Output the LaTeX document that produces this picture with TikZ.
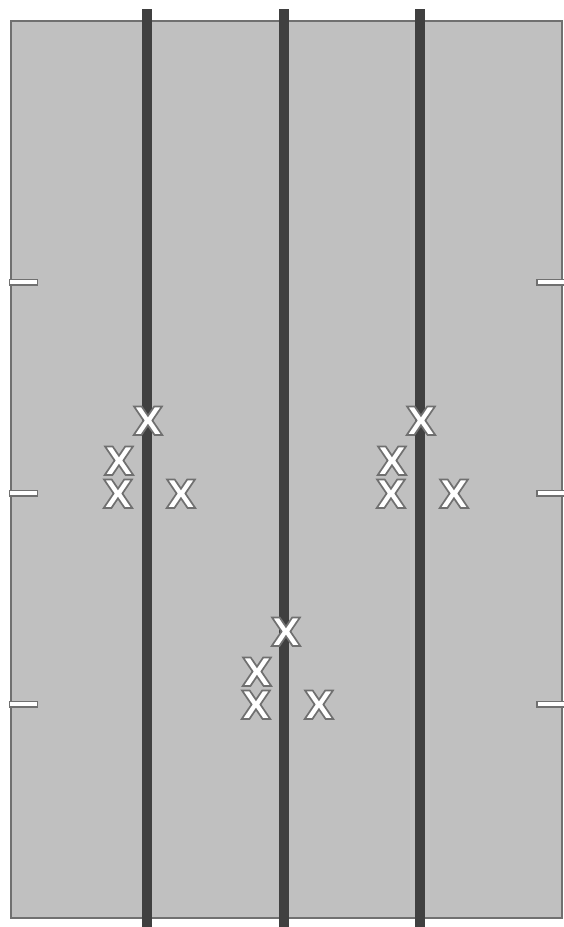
\documentclass[tikz,border=0pt]{standalone}
\usepackage{fontspec}
\setmainfont{DejaVu Sans}
\definecolor{bgfill}{HTML}{C0C0C0}
\definecolor{edge}{HTML}{707070}
\definecolor{bar}{HTML}{404040}
\tikzset{
  px/.style={x=1pt,y=-1pt},
  mark x/.style={inner sep=0pt,text height=28pt,text depth=0pt,font=\bfseries\fontsize{39}{39}\selectfont},
  tickmark/.style={draw=edge,fill=white,line width=1.5pt,minimum width=28pt,minimum height=5.5pt,inner sep=0pt},
}
\newcommand{\xmark}{\textcolor{white}{\special{pdf:literal direct 0.439 0.439 0.439 RG 2 Tr 1.7 w}X\special{pdf:literal direct 0 Tr}}}
\begin{document}
\begin{tikzpicture}[px]
\useasboundingbox (0,0) rectangle (563,927);
\node[draw=edge,fill=bgfill,line width=2pt,minimum width=551pt,minimum height=897pt,inner sep=0pt] (field) at (286.5,469.5) {};
% ticks
\foreach \yy/\nm in {282/a,493/b,704/c}{
  \node[tickmark] (tl\nm) at (23.5,\yy) {};
  \node[tickmark] (tr\nm) at (551,\yy) {};
}
% bars
\foreach \xx/\nm in {147/1,284/2,420/3}{
  \coordinate (top\nm) at (\xx,9);
  \coordinate (bot\nm) at (\xx,927);
  \draw[bar,line width=10.5pt] (top\nm) -- (bot\nm);
}
% marks
\foreach \dx/\dy/\nm in {0/0/1,273/0/2,138/211/3}{
  \node[mark x] (m\nm a) at (148+\dx,421+\dy) {\xmark};
  \node[mark x] (m\nm b) at (119+\dx,461+\dy) {\xmark};
  \node[mark x] (m\nm c) at (118+\dx,494+\dy) {\xmark};
  \node[mark x] (m\nm d) at (181+\dx,494+\dy) {\xmark};
}
\end{tikzpicture}
\end{document}
